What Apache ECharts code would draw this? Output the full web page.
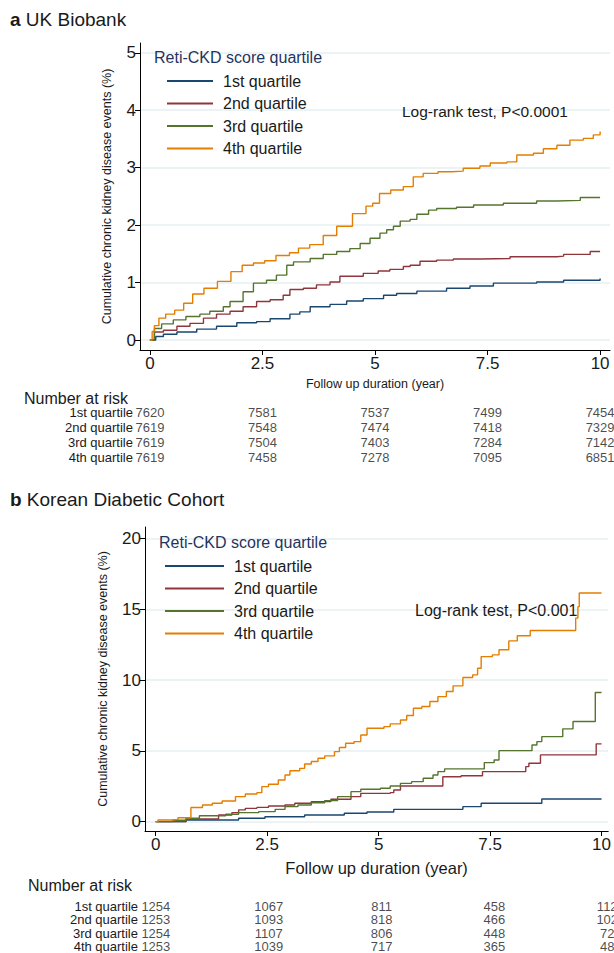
<!DOCTYPE html>
<html><head><meta charset="utf-8">
<script src="https://cdn.jsdelivr.net/npm/echarts@6/dist/echarts.min.js"></script>
<style>html,body{margin:0;padding:0;background:#fff}#c{width:614px;height:953px}</style>
</head><body><div id="c"></div>
<script>
// ---------- DATA ----------
const seriesNames = ['1st quartile','2nd quartile','3rd quartile','4th quartile'];
const xTicks = [0, 2.5, 5, 7.5, 10];
const yTicksUK = [0, 1, 2, 3, 4, 5];
const yTicksKR = [0, 5, 10, 15, 20];
const riskTimes = [0, 2.5, 5, 7.5, 10];

// UK Biobank cumulative incidence (%) : [year, value]
const ukQ1 = [[0,0],[0.13,0.06],[0.3,0.1],[0.6,0.14],[1.04,0.19],[1.48,0.24],[1.93,0.3],[2.37,0.32],[2.67,0.37],[3.11,0.45],[3.33,0.49],[3.56,0.58],[4.0,0.62],[4.37,0.68],[4.74,0.72],[5.19,0.78],[5.48,0.81],[5.93,0.85],[6.59,0.9],[7.11,0.94],[7.63,0.99],[8.59,1.01],[9.19,1.04],[10,1.07]];
const ukQ2 = [[0,0],[0.1,0.14],[0.3,0.17],[0.6,0.24],[0.89,0.29],[1.19,0.38],[1.48,0.45],[1.78,0.5],[2.07,0.58],[2.37,0.67],[2.67,0.7],[2.96,0.78],[3.11,0.88],[3.41,0.9],[3.7,0.96],[4.0,1.01],[4.22,1.11],[4.74,1.16],[5.07,1.2],[5.33,1.23],[5.63,1.28],[5.78,1.3],[6.0,1.37],[6.37,1.39],[6.74,1.41],[7.33,1.42],[8.0,1.45],[9.04,1.46],[9.19,1.49],[9.78,1.54],[10,1.54]];
const ukQ3 = [[0,0],[0.1,0.2],[0.26,0.28],[0.52,0.35],[0.8,0.41],[1.11,0.45],[1.33,0.5],[1.63,0.58],[1.78,0.67],[2.07,0.84],[2.3,0.99],[2.59,1.04],[2.81,1.13],[3.04,1.3],[3.19,1.36],[3.56,1.42],[3.85,1.49],[4.15,1.54],[4.44,1.59],[4.67,1.68],[4.89,1.77],[5.11,1.86],[5.26,1.92],[5.41,1.98],[5.56,2.07],[5.78,2.1],[5.93,2.19],[6.19,2.26],[6.37,2.29],[6.81,2.31],[7.19,2.35],[7.85,2.38],[8.59,2.42],[9.04,2.43],[9.56,2.48],[10,2.48]];
const ukQ4 = [[0,0],[0.05,0.15],[0.1,0.25],[0.2,0.38],[0.35,0.45],[0.55,0.52],[0.75,0.64],[0.95,0.8],[1.2,0.9],[1.5,1.02],[1.8,1.19],[2.05,1.3],[2.3,1.34],[2.55,1.38],[2.8,1.47],[3.1,1.52],[3.3,1.6],[3.55,1.66],[3.85,1.82],[4.15,1.98],[4.5,2.2],[4.8,2.33],[4.95,2.38],[5.1,2.55],[5.35,2.61],[5.63,2.67],[5.85,2.84],[6.07,2.9],[6.4,2.93],[6.7,2.94],[6.96,2.99],[7.33,3.03],[7.56,3.08],[7.93,3.1],[8.15,3.22],[8.52,3.25],[8.74,3.33],[9.04,3.39],[9.33,3.48],[9.63,3.51],[9.85,3.57],[10,3.63]];

// Korean Diabetic Cohort cumulative incidence (%)
const krQ1 = [[0,0],[0.68,0.12],[1.86,0.24],[2.45,0.35],[3.34,0.47],[4.23,0.59],[4.74,0.68],[5.34,0.87],[6.89,1.06],[7.3,1.3],[8.66,1.6],[10,1.6]];
const krQ2 = [[0,0],[0.68,0.19],[1.41,0.47],[1.71,0.64],[1.86,0.83],[2.01,0.94],[2.27,1.01],[2.53,1.11],[2.9,1.18],[3.12,1.3],[3.49,1.42],[3.93,1.58],[4.38,1.77],[4.6,2.0],[5.26,2.05],[5.34,2.24],[5.49,2.52],[6.44,3.18],[6.85,3.25],[7.33,3.54],[8.3,3.89],[8.37,4.13],[8.63,4.72],[9.88,5.5],[10,5.5]];
const krQ3 = [[0,0],[0.38,0.1],[0.68,0.24],[0.98,0.42],[1.57,0.52],[1.86,0.64],[2.31,0.71],[2.68,0.87],[2.9,1.06],[3.19,1.18],[3.49,1.34],[3.79,1.49],[4.08,1.77],[4.38,2.12],[4.6,2.29],[5.04,2.36],[5.26,2.52],[5.49,2.71],[5.74,2.83],[6.0,3.07],[6.22,3.3],[6.33,3.54],[6.48,3.73],[7.37,4.17],[7.59,4.36],[7.7,5.02],[8.44,5.42],[8.55,5.66],[8.66,6.01],[9.13,6.56],[9.36,7.08],[9.86,9.13],[10,9.13]];
const krQ4 = [[0,0],[0.05,0.12],[0.38,0.16],[0.5,0.28],[0.79,1.0],[1.05,1.18],[1.27,1.3],[1.49,1.46],[1.79,1.77],[2.01,1.96],[2.27,2.05],[2.38,2.48],[2.53,2.64],[2.75,2.95],[2.9,3.3],[3.01,3.6],[3.23,3.77],[3.34,4.08],[3.49,4.25],[3.64,4.48],[3.79,4.65],[4.01,4.95],[4.12,5.24],[4.26,5.54],[4.45,5.66],[4.6,6.13],[4.74,6.6],[5.12,6.72],[5.26,6.91],[5.49,7.19],[5.63,7.5],[5.78,8.02],[5.97,8.14],[6.15,8.49],[6.33,8.84],[6.52,9.2],[6.67,9.6],[6.89,10.19],[7.11,10.38],[7.22,10.85],[7.3,11.67],[7.55,11.79],[7.7,12.15],[7.92,12.78],[8.11,13.14],[8.4,13.51],[9.42,14.39],[9.47,15.2],[9.5,16.16],[10,16.16]];

// Number at risk
const ukRisk1 = [7620, 7581, 7537, 7499, 7454];
const ukRisk2 = [7619, 7548, 7474, 7418, 7329];
const ukRisk3 = [7619, 7504, 7403, 7284, 7142];
const ukRisk4 = [7619, 7458, 7278, 7095, 6851];
const krRisk1 = [1254, 1067, 811, 458, 112];
const krRisk2 = [1253, 1093, 818, 466, 102];
const krRisk3 = [1254, 1107, 806, 448, 72];
const krRisk4 = [1253, 1039, 717, 365, 48];

// ---------- STYLE ----------
const colors = ['#1a476f', '#90353b', '#55752f', '#e37e00'];
const FONT = 'Liberation Sans, Arial, sans-serif';
const TXT = '#1a1a1a';
const GRIDC = '#e6eff1';

const chart = echarts.init(document.getElementById('c'), null, {renderer: 'svg'});

function valueX(gridIndex, min, max, show, nameStyle) {
  return {
    type: 'value', gridIndex, min, max,
    show,
    name: show ? 'Follow up duration (year)' : '',
    nameLocation: 'middle', nameGap: nameStyle ? nameStyle.gap : 30,
    nameTextStyle: {fontFamily: FONT, fontSize: nameStyle ? nameStyle.size : 12.5, color: TXT},
    axisLine: {show: true, onZero: false, lineStyle: {color: '#000', width: 1}},
    axisTick: {show: true, length: 5, lineStyle: {color: '#000'}, customValues: xTicks},
    axisLabel: {fontFamily: FONT, fontSize: 17, color: TXT, margin: 5, customValues: xTicks,
      formatter: v => String(v)},
    splitLine: {show: false}
  };
}
function valueY(gridIndex, min, max, ticks) {
  return {
    type: 'value', gridIndex, min, max,
    name: 'Cumulative chronic kidney disease events (%)',
    nameLocation: 'middle', nameGap: gridIndex === 0 ? 27 : 36, nameRotate: 90,
    nameTextStyle: {fontFamily: FONT, fontSize: 12.5, color: TXT},
    axisLine: {show: true, onZero: false, lineStyle: {color: '#000', width: 1}},
    axisTick: {show: true, length: 5, lineStyle: {color: '#000'}, customValues: ticks},
    axisLabel: {fontFamily: FONT, fontSize: 17, color: TXT, margin: 4, customValues: ticks},
    splitLine: {show: true, lineStyle: {color: GRIDC, width: 1.5}}
  };
}
function riskY(gridIndex) {
  return {
    type: 'category', gridIndex, inverse: true,
    data: seriesNames,
    axisLine: {show: false}, axisTick: {show: false},
    axisLabel: {fontFamily: FONT, fontSize: 13, color: TXT, margin: 7, interval: 0},
    splitLine: {show: false}
  };
}
function curve(name, data, idx, xi, yi) {
  return {
    type: 'line', name, data, step: 'end', xAxisIndex: xi, yAxisIndex: yi,
    showSymbol: false, symbol: 'none', color: colors[idx],
    lineStyle: {width: 1.4, color: colors[idx]}, animation: false, silent: true
  };
}
function riskSeries(tables, xi, yi) {
  const data = [];
  tables.forEach((row, r) => row.forEach((n, c) => data.push([riskTimes[c], seriesNames[r], n])));
  return {
    type: 'scatter', xAxisIndex: xi, yAxisIndex: yi, data, symbolSize: 0,
    label: {show: true, position: 'inside', fontFamily: FONT, fontSize: 13, color: TXT,
      formatter: p => String(p.value[2])},
    silent: true, animation: false
  };
}
function legend(left, top, itemWidth) {
  return {
    orient: 'vertical', left, top, data: seriesNames,
    icon: 'rect', itemWidth, itemHeight: 2, itemGap: 2.5,
    textStyle: {fontFamily: FONT, fontSize: 16, color: TXT, lineHeight: 20, padding: [0, 0, 0, 5]},
    selectedMode: false
  };
}
function txt(text, left, top, size, color) {
  return {text, left, top, padding: 0,
    textStyle: {fontFamily: FONT, fontSize: size, fontWeight: 'normal', color: color || TXT,
      rich: {b: {fontFamily: FONT, fontSize: size, fontWeight: 'bold', color: color || TXT}}}};
}

const option = {
  animation: false,
  backgroundColor: '#fff',
  title: [
    txt('{b|a} UK Biobank', 10, 10, 19),
    txt('{b|b} Korean Diabetic Cohort', 10, 490, 19),
    txt('Reti-CKD score quartile', 154, 49, 16, '#1f3461'),
    txt('Reti-CKD score quartile', 159, 534, 16, '#1f3461'),
    txt('Log-rank test, P<0.0001', 402, 103, 15.5),
    txt('Log-rank test, P<0.001', 415, 602, 16),
    txt('Number at risk', 24, 390, 16),
    txt('Number at risk', 28, 877, 16)
  ],
  legend: [legend(162, 66, 46), legend(160, 551, 59)],
  grid: [
    {left: 140, top: 43, width: 470, height: 307},
    {left: 140, top: 405, width: 470, height: 60},
    {left: 145, top: 527, width: 469, height: 304},
    {left: 145, top: 900, width: 469, height: 54}
  ],
  xAxis: [
    valueX(0, -0.22, 10.22, true, {gap: 27, size: 12.5}),
    Object.assign(valueX(1, -0.22, 10.22, false), {show: false}),
    valueX(2, -0.24, 10.15, true, {gap: 28, size: 16.5}),
    Object.assign(valueX(3, -0.24, 10.15, false), {show: false})
  ],
  yAxis: [
    valueY(0, -0.174, 5.17, yTicksUK),
    riskY(1),
    valueY(2, -0.66, 20.83, yTicksKR),
    riskY(3)
  ],
  series: [
    curve(seriesNames[0], ukQ1, 0, 0, 0),
    curve(seriesNames[1], ukQ2, 1, 0, 0),
    curve(seriesNames[2], ukQ3, 2, 0, 0),
    curve(seriesNames[3], ukQ4, 3, 0, 0),
    curve(seriesNames[0], krQ1, 0, 2, 2),
    curve(seriesNames[1], krQ2, 1, 2, 2),
    curve(seriesNames[2], krQ3, 2, 2, 2),
    curve(seriesNames[3], krQ4, 3, 2, 2),
    riskSeries([ukRisk1, ukRisk2, ukRisk3, ukRisk4], 1, 1),
    riskSeries([krRisk1, krRisk2, krRisk3, krRisk4], 3, 3)
  ]
};
chart.setOption(option);
</script></body></html>
